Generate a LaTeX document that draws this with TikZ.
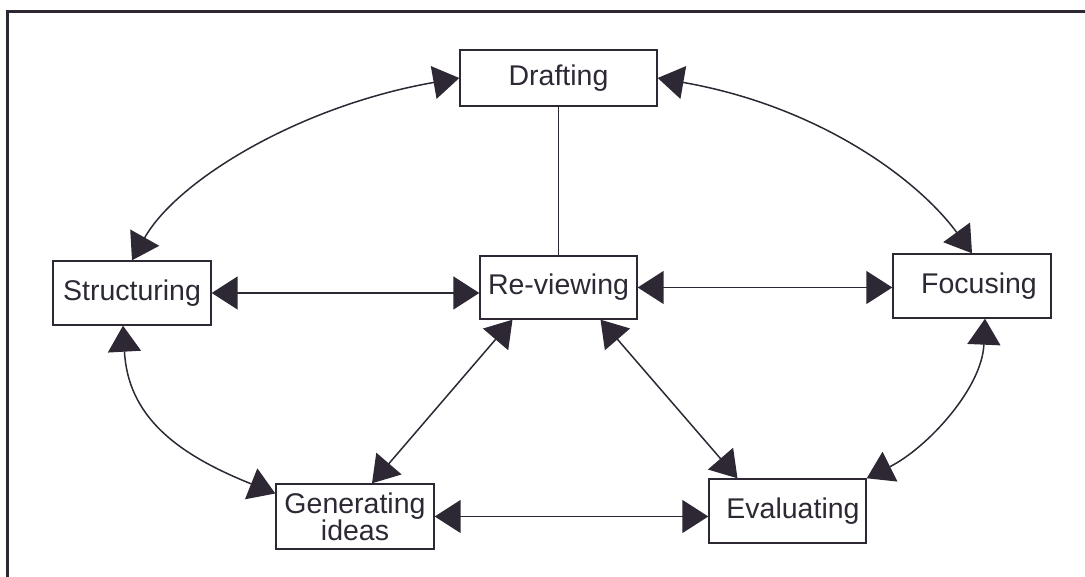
\documentclass[tikz,border=0pt]{standalone}
\usepackage{fontspec}
\setmainfont{Liberation Sans}
\usepackage{tikz}
\usetikzlibrary{arrows.meta}
\definecolor{ink}{RGB}{45,40,52}
\begin{document}
\begin{tikzpicture}[x=1pt,y=1pt,
				>={Triangle[length=26pt,width=33pt]},
				box/.style={draw=ink, line width=1.4pt, text=ink, inner sep=0pt, align=center,
					minimum width=158pt, minimum height=64pt, font=\fontsize{28.5}{27}\selectfont},
				link/.style={draw=ink, line width=1.5pt, <->}]
				\useasboundingbox (0,0) rectangle (1085,577);
				\draw[ink, line width=3pt] (7.5,0) |- (1085,565.5);
				\node[box, minimum width=197pt, minimum height=56pt] (drafting) at (558.5,499) {Drafting};
				\node[box] (structuring) at (132,284) {Structuring};
				\node[box, minimum width=157pt, minimum height=63pt] (reviewing) at (558.5,289.5) {Re-viewing};
				\node[box] (focusing) at (972,291) {\hspace*{14pt}Focusing};
				\node[box, minimum height=65pt] (generating) at (355,60.5) {Generating\\ideas};
				\node[box, minimum width=157pt] (evaluating) at (787.5,66) {\hspace*{11pt}Evaluating};
				\draw[draw=ink, line width=1.5pt] (drafting.south) -- (reviewing.north);
				\draw[link] (structuring.east) -- (structuring.east -| reviewing.west);
				\draw[link] (reviewing.east) -- (reviewing.east -| focusing.west);
				\draw[link] (generating.east) -- (generating.east -| evaluating.west);
				\draw[link] ([xshift=-46pt]reviewing.south) -- ([xshift=17pt]generating.north);
				\draw[link] ([xshift=42pt]reviewing.south) -- ([xshift=-50pt]evaluating.north);
				\draw[link] (structuring.north) .. controls +(45,80) and +(-160,-28) .. (drafting.west);
				\draw[link] (focusing.north) .. controls +(-55,75) and +(160,-28) .. (drafting.east);
				\draw[link] ([xshift=-9pt]structuring.south) .. controls +(5,-90) and +(-100,40) .. ([yshift=23pt]generating.west);
				\draw[link] ([xshift=13pt]focusing.south) .. controls +(-3,-70) and +(60,30) .. (evaluating.north east);
			\end{tikzpicture}
\end{document}
